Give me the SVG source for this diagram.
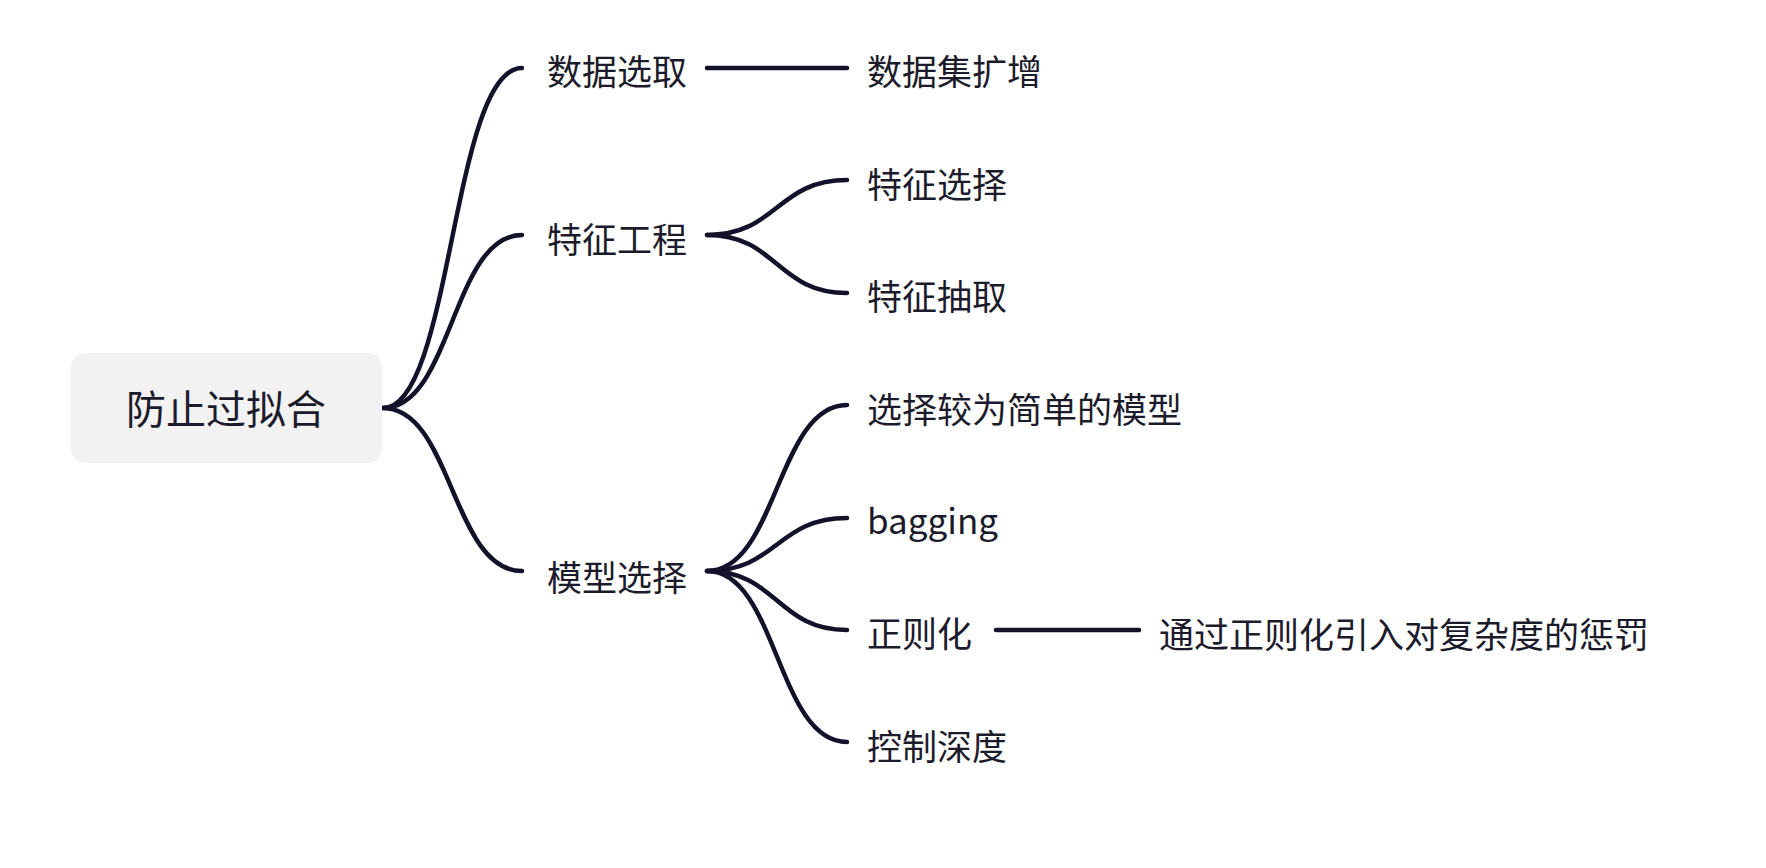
<svg xmlns="http://www.w3.org/2000/svg" width="1766" height="868" viewBox="0 0 1766 868">
<style>
.t{font-family:"Noto Sans CJK SC","Noto Sans",sans-serif;font-size:35px;fill:#1c1b2b}
.r{font-family:"Noto Sans CJK SC","Noto Sans",sans-serif;font-size:40px;fill:#1c1b2b}
.c{fill:none;stroke:#13122a;stroke-width:4.5;stroke-linecap:round}
</style>
<rect width="1766" height="868" fill="#ffffff"/>
<g id="connectors">
<path class="c" d="M383 408 C452 408 452 68 522 68"/>
<path class="c" d="M383 408 C452 408 452 235 522 235"/>
<path class="c" d="M383 408 C452 408 452 571 522 571"/>
<path class="c" d="M707 68 L847 68"/>
<path class="c" d="M707 235 C777 235 777 180 847 180"/>
<path class="c" d="M707 235 C777 235 777 293 847 293"/>
<path class="c" d="M707 571 C777 571 777 405 847 405"/>
<path class="c" d="M707 571 C777 571 777 518 847 518"/>
<path class="c" d="M707 571 C777 571 777 630 847 630"/>
<path class="c" d="M707 571 C777 571 777 742 847 742"/>
<path class="c" d="M996 630 L1139 630"/>
</g>
<g id="root"><rect x="71" y="353" width="311" height="110" rx="14" fill="#f2f2f2"/><text class="r" x="226" y="424" text-anchor="middle">防止过拟合</text></g>
<g id="n1"><text class="t" x="547" y="85">数据选取</text></g>
<g id="n1a"><text class="t" x="867" y="85">数据集扩增</text></g>
<g id="n2"><text class="t" x="547" y="253">特征工程</text></g>
<g id="n2a"><text class="t" x="867" y="198">特征选择</text></g>
<g id="n2b"><text class="t" x="867" y="310">特征抽取</text></g>
<g id="n3"><text class="t" x="547" y="591">模型选择</text></g>
<g id="n3a"><text class="t" x="867" y="423">选择较为简单的模型</text></g>
<g id="n3b"><text class="t" x="867" y="534">bagging</text></g>
<g id="n3c"><text class="t" x="867" y="647">正则化</text></g>
<g id="n3c1"><text class="t" x="1159" y="648">通过正则化引入对复杂度的惩罚</text></g>
<g id="n3d"><text class="t" x="867" y="760">控制深度</text></g>
</svg>
